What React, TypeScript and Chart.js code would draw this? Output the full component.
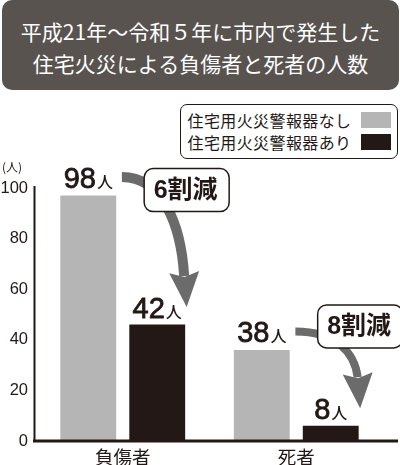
import { useEffect, useRef } from "react"
import { Chart, registerables } from "chart.js"
import type { Plugin } from "chart.js"

Chart.register(...registerables)

const TITLE_LINES = ["平成21年～令和５年に市内で発生した", "住宅火災による負傷者と死者の人数"]
const CATEGORIES = ["負傷者", "死者"]
const SERIES_LABELS = ["住宅用火災警報器なし", "住宅用火災警報器あり"]
// bar heights as drawn in the picture
const WITHOUT_ALARM = [97, 36]
const WITH_ALARM = [46, 6]
// counts printed above the bars
const WITHOUT_ALARM_LABELS = [98, 38]
const WITH_ALARM_LABELS = [42, 8]
const REDUCTIONS = ["6割減", "8割減"]
const UNIT = "人"
const AXIS_UNIT = "(人)"
const Y_MIN = 0
const Y_MAX = 100
const Y_STEP = 20

const GRAY = "#b5b5b6"
const BLACK = "#231815"
const ARROW = "#6b6b6b"
const TITLE_BG = "#595350"
const CJK = '"Noto Sans CJK JP", sans-serif'
const NUM_FONT = '29px "Liberation Sans", "Noto Sans CJK JP"'
const UNIT_FONT = '500 16px "Noto Sans CJK JP"'

// per-annotation tweaks (arrow stroke width, callout vertical offset)
const ARROW_WIDTHS = [10, 8]
const CALLOUT_DY = [13, -5]

function drawValueLabel(ctx: CanvasRenderingContext2D, x: number, baseline: number, value: number) {
  const num = String(value)
  ctx.font = NUM_FONT
  const w1 = ctx.measureText(num).width
  ctx.font = UNIT_FONT
  const w2 = ctx.measureText(UNIT).width
  const gap = 1
  const startX = x - (w1 + gap + w2) / 2
  ctx.fillStyle = BLACK
  ctx.strokeStyle = BLACK
  ctx.lineWidth = 0.8
  ctx.textAlign = "left"
  ctx.textBaseline = "alphabetic"
  ctx.font = NUM_FONT
  ctx.fillText(num, startX, baseline)
  ctx.strokeText(num, startX, baseline)
  ctx.font = UNIT_FONT
  ctx.fillText(UNIT, startX + w1 + gap, baseline)
  return startX + w1 + gap + w2
}

function drawArrow(ctx: CanvasRenderingContext2D, sx: number, sy: number, tx: number, ty: number, width: number) {
  const headLen = 35
  const headHalf = 15
  const bx = tx - 2.5
  const by = ty - headLen
  ctx.save()
  ctx.strokeStyle = ARROW
  ctx.fillStyle = ARROW
  ctx.lineWidth = width
  ctx.beginPath()
  ctx.moveTo(sx, sy)
  ctx.bezierCurveTo(sx + 0.65 * (bx - sx), sy, bx - 0.05 * (bx - sx), sy + 0.5 * (by - sy), bx, by + 4)
  ctx.stroke()
  const ang = Math.atan2(ty - by, tx - bx)
  const px = -Math.sin(ang)
  const py = Math.cos(ang)
  const notch = 5
  ctx.beginPath()
  ctx.moveTo(tx, ty)
  ctx.lineTo(bx + px * headHalf, by + py * headHalf)
  ctx.lineTo(bx + Math.cos(ang) * notch, by + Math.sin(ang) * notch)
  ctx.lineTo(bx - px * headHalf, by - py * headHalf)
  ctx.closePath()
  ctx.fill()
  ctx.restore()
}

function drawCallout(ctx: CanvasRenderingContext2D, cx: number, cy: number, text: string) {
  const w = 85
  const h = 43
  ctx.save()
  ctx.beginPath()
  ctx.roundRect(cx - w / 2, cy - h / 2, w, h, 9)
  ctx.fillStyle = "#ffffff"
  ctx.fill()
  ctx.lineWidth = 1.5
  ctx.strokeStyle = BLACK
  ctx.stroke()
  ctx.fillStyle = BLACK
  ctx.font = 'bold 25px "Liberation Sans", "Noto Sans CJK JP"'
  ctx.textAlign = "center"
  ctx.textBaseline = "middle"
  ctx.fillText(text, cx - 1, cy + 1)
  ctx.restore()
}

const annotations: Plugin<"bar"> = {
  id: "annotations",
  afterDatasetsDraw(chart) {
    const ctx = chart.ctx
    const { chartArea } = chart
    const yScale = chart.scales.y
    const zeroY = yScale.getPixelForValue(0)
    const topY = yScale.getPixelForValue(Y_MAX)

    ctx.save()
    // axis lines
    ctx.fillStyle = BLACK
    ctx.fillRect(chartArea.left - 2.5, topY - 2, 2, zeroY - topY + 2)
    ctx.fillRect(chartArea.left - 3, zeroY - 1.5, chart.width - chartArea.left + 1, 3)

    // unit above the y axis
    ctx.font = `12px ${CJK}`
    ctx.textAlign = "center"
    ctx.textBaseline = "middle"
    ctx.fillText(AXIS_UNIT, 12, topY - 21)

    const m0 = chart.getDatasetMeta(0)
    const m1 = chart.getDatasetMeta(1)
    CATEGORIES.forEach((_, i) => {
      const g = m0.data[i] as any
      const b = m1.data[i] as any
      const gBase = g.y - 7.5
      const bBase = b.y - 7
      const gRight = drawValueLabel(ctx, g.x, gBase, WITHOUT_ALARM_LABELS[i])
      drawValueLabel(ctx, b.x, bBase, WITH_ALARM_LABELS[i])

      const sx = gRight + 9
      const sy = gBase - 11
      const tx = b.x + b.width / 2 + 1.5
      const ty = b.y - 17.5
      drawArrow(ctx, sx, sy, tx, ty, ARROW_WIDTHS[i])
      drawCallout(ctx, tx, sy + CALLOUT_DY[i], REDUCTIONS[i])
    })
    ctx.restore()
  },
}

export default function App() {
  const canvasRef = useRef<HTMLCanvasElement>(null)

  useEffect(() => {
    document.body.style.margin = "0"
    if (!canvasRef.current) return
    const chart = new Chart(canvasRef.current, {
      type: "bar",
      data: {
        labels: CATEGORIES,
        datasets: [
          {
            label: SERIES_LABELS[0],
            data: WITHOUT_ALARM,
            backgroundColor: GRAY,
            categoryPercentage: 0.795,
            barPercentage: 0.81,
          },
          {
            label: SERIES_LABELS[1],
            data: WITH_ALARM,
            backgroundColor: BLACK,
            categoryPercentage: 0.795,
            barPercentage: 0.81,
          },
        ],
      },
      options: {
        responsive: false,
        animation: false,
        layout: { padding: { top: 188, right: 17, bottom: 0, left: 0 } },
        plugins: { legend: { display: false }, tooltip: { enabled: false } },
        scales: {
          x: {
            grid: { display: false, drawTicks: false },
            border: { display: false },
            ticks: { font: { family: CJK, size: 18.5 }, color: BLACK, padding: 5 },
            afterFit: (s: any) => {
              s.height = 24
            },
          },
          y: {
            min: Y_MIN,
            max: Y_MAX,
            grid: { display: false, drawTicks: false },
            border: { display: false },
            ticks: {
              stepSize: Y_STEP,
              padding: 8,
              font: { family: '"Liberation Sans", sans-serif', size: 16.5 },
              color: BLACK,
            },
            afterFit: (s: any) => {
              s.width = 36
            },
          },
        },
      },
      plugins: [annotations],
    })
    return () => chart.destroy()
  }, [])

  return (
    <div style={{ position: "relative", width: 400, height: 465, overflow: "hidden", background: "#fff" }}>
      <canvas ref={canvasRef} width={400} height={465} style={{ position: "absolute", left: 0, top: 0 }} />
      <div
        style={{
          position: "absolute",
          left: 2,
          top: 0,
          width: 397,
          height: 90,
          background: TITLE_BG,
          borderRadius: 10,
          color: "#fff",
          fontFamily: CJK,
          fontSize: 21,
          lineHeight: "31.6px",
          textAlign: "center",
          paddingTop: 16,
          boxSizing: "border-box",
        }}
      >
        {TITLE_LINES.map((line) => (
          <div key={line}>{line}</div>
        ))}
      </div>
      <div
        style={{
          position: "absolute",
          left: 180,
          top: 104,
          width: 218,
          height: 55,
          border: `1.5px solid ${BLACK}`,
          borderRadius: 7,
          boxSizing: "border-box",
          background: "#fff",
          fontFamily: CJK,
          fontSize: 16,
          color: BLACK,
        }}
      >
        {SERIES_LABELS.map((label, i) => (
          <div key={label}>
            <div
              style={{
                position: "absolute",
                left: 6.5,
                top: i === 0 ? 5.2 : 27.2,
                lineHeight: "20px",
                letterSpacing: 0.4,
                whiteSpace: "nowrap",
              }}
            >
              {label}
            </div>
            <div
              style={{
                position: "absolute",
                left: 180,
                top: i === 0 ? 7.2 : 28.8,
                width: 30,
                height: 16,
                background: i === 0 ? GRAY : BLACK,
              }}
            />
          </div>
        ))}
      </div>
    </div>
  )
}
